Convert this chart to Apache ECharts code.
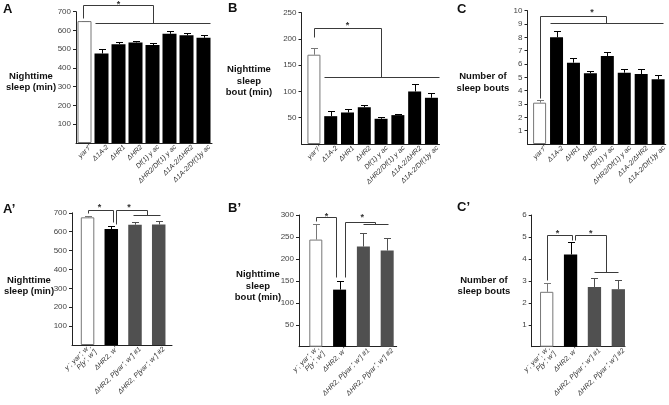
<!DOCTYPE html>
<html><head><meta charset="utf-8">
<script src="https://cdn.jsdelivr.net/npm/echarts@6/dist/echarts.min.js"></script>
<style>html,body{margin:0;padding:0;background:#fff}#c{width:669px;height:405px}</style>
</head><body><div id="c"></div>
<script>
// ---------------- data ----------------
const topCategories = ['yar⁺/⁺', 'Δ1A-2', 'ΔHR1', 'ΔHR2', 'Df(1) y ac', 'ΔHR2/Df(1) y ac', 'Δ1A-2/ΔHR2', 'Δ1A-2/Df(1)y ac'];
const sleepA = [650, 477, 527, 536, 522, 582, 574, 561];
const sleepAErr = [3, 22, 9, 9, 10, 13, 12, 13];
const boutB = [170, 53, 60, 70, 48, 55, 100, 88];
const boutBErr = [13, 10, 7, 5, 4, 3, 14, 9];
const countC = [3.1, 8.0, 6.1, 5.3, 6.6, 5.35, 5.25, 4.85];
const countCErr = [0.2, 0.5, 0.35, 0.2, 0.3, 0.3, 0.35, 0.35];

const bottomCategories = ['y⁻, yar⁺, w⁻;\nP[y⁺, w⁺]', 'ΔHR2, w⁺', 'ΔHR2, P[yar⁺, w⁺] #1', 'ΔHR2, P[yar⁺, w⁺] #2'];
const sleepA2 = [676, 614, 637, 638];
const sleepA2Err = [6, 14, 16, 17];
const boutB2 = [244, 130, 228, 219];
const boutB2Err = [35, 19, 32, 28];
const countC2 = [2.5, 4.2, 2.72, 2.62];
const countC2Err = [0.4, 0.57, 0.41, 0.4];

const yTicksA = [0, 100, 200, 300, 400, 500, 600, 700];
const yTicksB = [0, 50, 100, 150, 200, 250];
const yTicksC = [0, 1, 2, 3, 4, 5, 6, 7, 8, 9, 10];
const yTicksA2 = [0, 100, 200, 300, 400, 500, 600, 700];
const yTicksB2 = [0, 50, 100, 150, 200, 250, 300];
const yTicksC2 = [0, 1, 2, 3, 4, 5, 6];

// significance annotations (category index, value)
const bracketsA = [[[-0.1, 668], [-0.1, 736], [4, 736], [4, 638]], [[0.6, 638], [7.4, 638]]];
const starsA = [[2, 749]];
const bracketsB = [[[0, 204], [0, 220], [4, 220], [4, 128]], [[0.6, 128], [7.45, 128]]];
const starsB = [[2, 230]];
const bracketsC = [[[0, 3.47], [0, 9.6], [3.9, 9.6], [3.9, 9.05]], [[0.6, 9.05], [7.3, 9.05]]];
const starsC = [[3.1, 10.05]];
const bracketsA2 = [[[0, 697], [0, 717], [1.06, 717], [1.06, 653]], [[1.2, 643], [1.2, 715], [2.5, 715], [2.5, 688]], [[1.9, 688], [3.05, 688]]];
const starsA2 = [[0.5, 738], [1.75, 738]];
const bracketsB2 = [[[0, 287], [0, 295], [0.85, 295], [0.85, 159]], [[1.23, 159], [1.23, 285], [2.49, 285], [2.49, 280]], [[2.0, 280], [3.05, 280]]];
const starsB2 = [[0.45, 302], [1.95, 298]];
const bracketsC2 = [[[0, 3.04], [0, 5.09], [1.04, 5.09], [1.04, 4.86]], [[1.18, 4.86], [1.18, 5.09], [2.48, 5.09], [2.48, 3.42]], [[1.98, 3.42], [3.0, 3.42]]];
const starsC2 = [[0.45, 5.27], [1.85, 5.27]];

// ---------------- styles / layout ----------------
const FONT = '"Liberation Sans", Arial, Helvetica, sans-serif';
const topFill = ['#ffffff', '#000', '#000', '#000', '#000', '#000', '#000', '#000'];
const topErrCol = ['#777', '#000', '#000', '#000', '#000', '#000', '#000', '#000'];
const botFill = ['#ffffff', '#000', '#505050', '#505050'];
const botErrCol = ['#777', '#000', '#505050', '#505050'];

const panels = [
  {cats: topCategories, vals: sleepA, errs: sleepAErr, ticks: yTicksA, fill: topFill, errCol: topErrCol, labelShift: 0.35,
   grid: {left: 76, top: 11.7, width: 136, height: 131.3}, xMin: -0.5, xMax: 7.5, barWidth: 14, brackets: bracketsA, stars: starsA},
  {cats: topCategories, vals: boutB, errs: boutBErr, ticks: yTicksB, fill: topFill, errCol: topErrCol, labelShift: 0.35,
   grid: {left: 301.5, top: 12.7, width: 138, height: 131.3}, xMin: -0.74, xMax: 7.48, barWidth: 13, brackets: bracketsB, stars: starsB},
  {cats: topCategories, vals: countC, errs: countCErr, ticks: yTicksC, fill: topFill, errCol: topErrCol, labelShift: 0.35,
   grid: {left: 527.5, top: 10.7, width: 140.5, height: 133.3}, xMin: -0.715, xMax: 7.45, barWidth: 13, brackets: bracketsC, stars: starsC},
  {cats: bottomCategories, vals: sleepA2, errs: sleepA2Err, ticks: yTicksA2, fill: botFill, errCol: botErrCol, labelShift: 0.22,
   grid: {left: 72, top: 212.8, width: 100, height: 132.2}, xMin: -0.656, xMax: 3.56, barWidth: 13.5, brackets: bracketsA2, stars: starsA2},
  {cats: bottomCategories, vals: boutB2, errs: boutB2Err, ticks: yTicksB2, fill: botFill, errCol: botErrCol, labelShift: 0.22,
   grid: {left: 299, top: 215, width: 97.7, height: 131.7}, xMin: -0.706, xMax: 3.4, barWidth: 13, brackets: bracketsB2, stars: starsB2},
  {cats: bottomCategories, vals: countC2, errs: countC2Err, ticks: yTicksC2, fill: botFill, errCol: botErrCol, labelShift: 0.22,
   grid: {left: 531.7, top: 215, width: 93.3, height: 131.7}, xMin: -0.628, xMax: 3.28, barWidth: 13.3, brackets: bracketsC2, stars: starsC2}
];

const grids = [], xAxes = [], yAxes = [], series = [];
panels.forEach((p, k) => {
  grids.push(Object.assign({containLabel: false}, p.grid));
  xAxes.push({
    type: 'value', gridIndex: k, min: p.xMin, max: p.xMax,
    axisLine: {show: true, onZero: false, lineStyle: {color: '#222', width: 1}},
    axisTick: {show: false}, splitLine: {show: false},
    axisLabel: {
      customValues: p.cats.map((c, i) => i + p.labelShift),
      formatter: v => p.cats[Math.round(v)] || '',
      rotate: 45, margin: 3, fontSize: 7, fontStyle: 'italic', color: '#333', fontFamily: FONT, lineHeight: 8
    }
  });
  const t = p.ticks;
  yAxes.push({
    type: 'value', gridIndex: k, min: t[0], max: t[t.length - 1], interval: t[1] - t[0],
    axisLine: {show: true, onZero: false, lineStyle: {color: '#222', width: 1}},
    axisTick: {show: true, length: 3, lineStyle: {color: '#222'}},
    splitLine: {show: false},
    axisLabel: {showMinLabel: false, fontSize: 8, color: '#444', margin: 5, fontFamily: FONT}
  });
  series.push({
    type: 'bar', xAxisIndex: k, yAxisIndex: k, barWidth: p.barWidth, z: 2,
    data: p.vals.map((v, i) => ({
      value: [i, v],
      itemStyle: {color: p.fill[i], borderColor: i === 0 ? '#777' : p.fill[i], borderWidth: i === 0 ? 1 : 0}
    }))
  });
  series.push({
    type: 'custom', xAxisIndex: k, yAxisIndex: k, z: 3,
    data: p.vals.map((v, i) => [i, v, v + p.errs[i]]),
    renderItem: (params, api) => {
      const x = api.value(0);
      const lo = api.coord([x, api.value(1)]), hi = api.coord([x, api.value(2)]);
      const cx = Math.round(lo[0]) + 0.5, ty = Math.round(hi[1]) + 0.5;
      const col = p.errCol[params.dataIndex];
      return {type: 'group', children: [
        {type: 'line', shape: {x1: cx, y1: lo[1], x2: cx, y2: ty}, style: {stroke: col, lineWidth: 1}},
        {type: 'line', shape: {x1: cx - 3.5, y1: ty, x2: cx + 3.5, y2: ty}, style: {stroke: col, lineWidth: 1}}
      ]};
    }
  });
  series.push({
    type: 'custom', xAxisIndex: k, yAxisIndex: k, z: 4, clip: false,
    data: [[0, 0]],
    renderItem: (params, api) => {
      const children = [];
      p.brackets.forEach(b => {
        const pts = b.map(q => { const c = api.coord([q[0], q[1]]); return [Math.round(c[0]) + 0.5, Math.round(c[1]) + 0.5]; });
        children.push({type: 'polyline', shape: {points: pts}, style: {stroke: '#3a3a3a', lineWidth: 1, fill: null}});
      });
      p.stars.forEach(s => {
        const c = api.coord([s[0], s[1]]);
        children.push({type: 'text', x: c[0], y: c[1] + 2, style: {text: '*', fontSize: 9, fontWeight: 'bold', fill: '#333', align: 'center', verticalAlign: 'middle', fontFamily: FONT}});
      });
      return {type: 'group', children};
    }
  });
});

const titleStyle = {fontSize: 9.5, fontWeight: 'bold', fill: '#111', align: 'center', verticalAlign: 'middle', fontFamily: FONT, lineHeight: 11.5};
const letterStyle = {fontSize: 13, fontWeight: 'bold', fill: '#111', align: 'left', verticalAlign: 'middle', fontFamily: FONT};
const graphics = [
  {type: 'text', x: 31, y: 82, style: Object.assign({text: 'Nighttime\nsleep (min)'}, titleStyle)},
  {type: 'text', x: 249, y: 81, style: Object.assign({text: 'Nighttime\nsleep\nbout (min)'}, titleStyle)},
  {type: 'text', x: 483, y: 82.5, style: Object.assign({text: 'Number of\nsleep bouts'}, titleStyle)},
  {type: 'text', x: 29, y: 286, style: Object.assign({text: 'Nighttime\nsleep (min)'}, titleStyle)},
  {type: 'text', x: 258, y: 286, style: Object.assign({text: 'Nighttime\nsleep\nbout (min)'}, titleStyle)},
  {type: 'text', x: 484, y: 286, style: Object.assign({text: 'Number of\nsleep bouts'}, titleStyle)},
  {type: 'text', x: 3, y: 9, style: Object.assign({text: 'A'}, letterStyle)},
  {type: 'text', x: 228, y: 8.5, style: Object.assign({text: 'B'}, letterStyle)},
  {type: 'text', x: 457, y: 9, style: Object.assign({text: 'C'}, letterStyle)},
  {type: 'text', x: 3, y: 209, style: Object.assign({text: 'A’'}, letterStyle)},
  {type: 'text', x: 228, y: 208.5, style: Object.assign({text: 'B’'}, letterStyle)},
  {type: 'text', x: 457, y: 207, style: Object.assign({text: 'C’'}, letterStyle)}
];

const chart = echarts.init(document.getElementById('c'), null, {renderer: 'canvas'});
chart.setOption({
  animation: false,
  backgroundColor: '#fff',
  textStyle: {fontFamily: FONT},
  grid: grids, xAxis: xAxes, yAxis: yAxes, series,
  graphic: graphics
});
</script></body></html>
